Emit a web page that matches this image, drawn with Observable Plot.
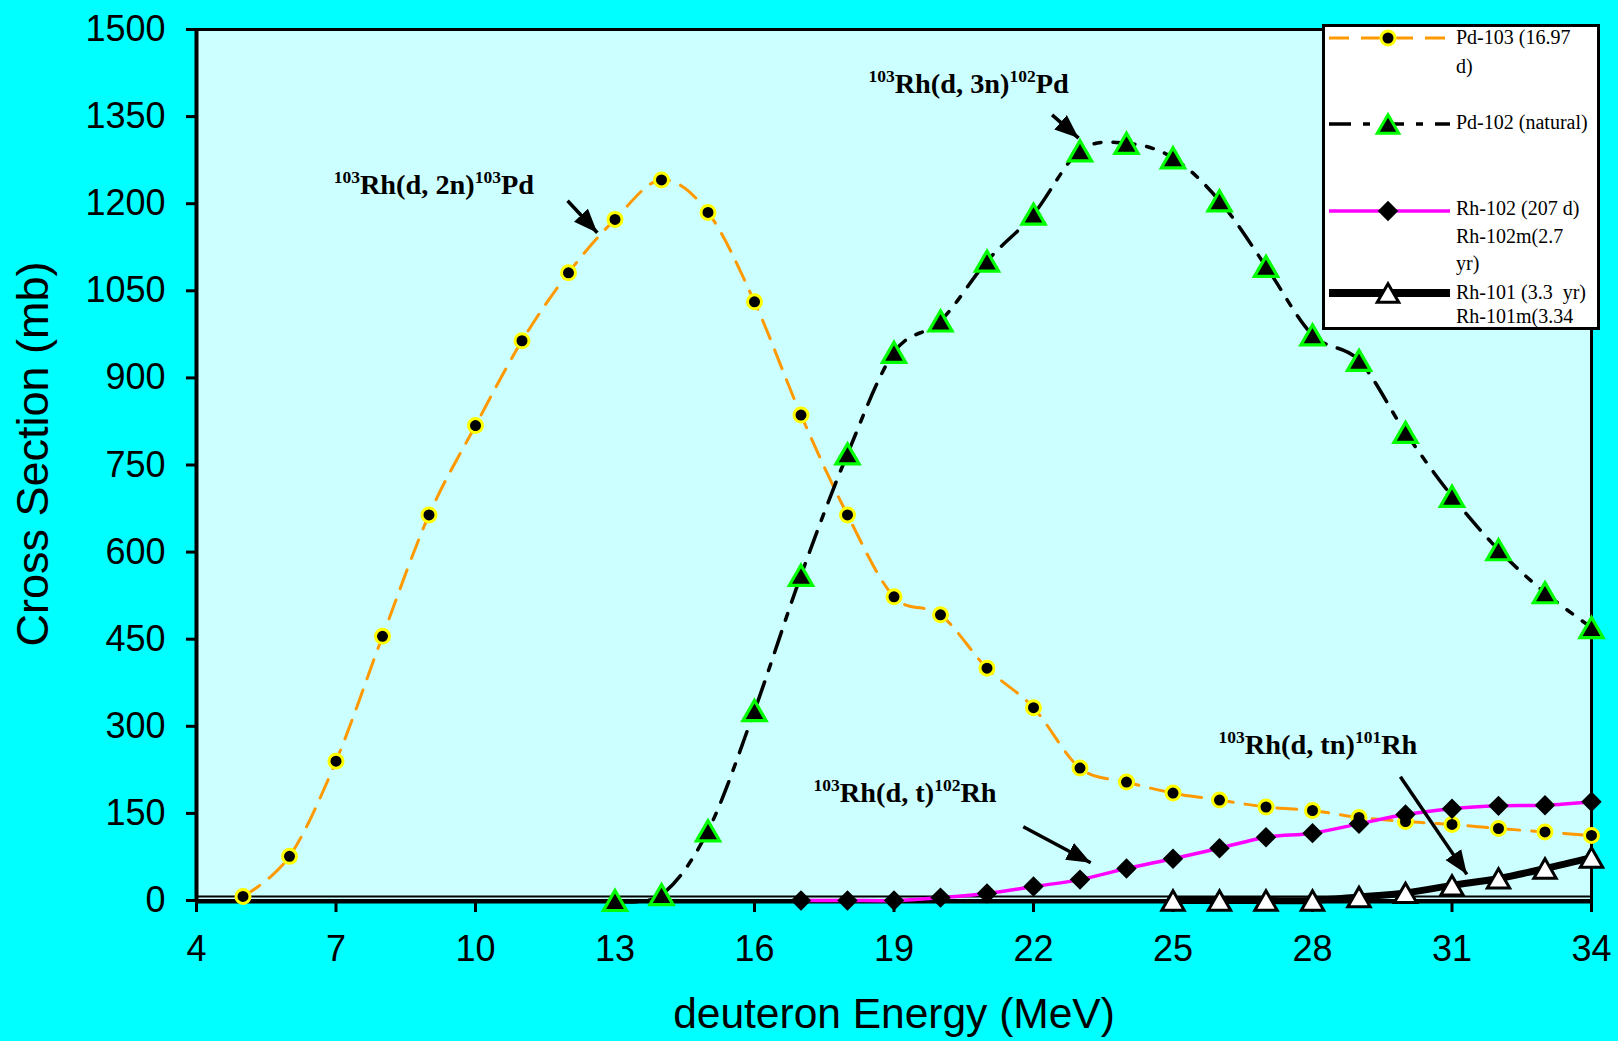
<!DOCTYPE html>
<html><head><meta charset="utf-8">
<script src="https://cdn.jsdelivr.net/npm/d3@7"></script>
<script src="https://cdn.jsdelivr.net/npm/@observablehq/plot@0.6"></script>
<style>
html,body{margin:0;padding:0;background:#00ffff;}
#wrap{position:relative;width:1618px;height:1041px;overflow:hidden;background:#00ffff;}
#legend{position:absolute;left:1322px;top:24px;width:278px;height:306px;box-sizing:border-box;border:3px solid #000;background:#fff;overflow:hidden;}
</style></head>
<body><div id="wrap"><div id="chart"></div><div id="legend"></div></div>
<script>
// ---- data ----
const pd103E = [5,6,7,8,9,10,11,12,13,14,15,16,17,18,19,20,21,22,23,24,25,26,27,28,29,30,31,32,33,34];
const pd103  = [7,76,240,455,664,818,964,1081,1173,1241,1185,1031,836,664,523,492,400,332,228,204,185,173,161,155,143,136,131,124,118,112];
const pd102E = [13,14,15,16,17,18,19,20,21,22,23,24,25,26,27,28,29,30,31,32,33,34];
const pd102  = [0,10,120,327,560,769,944,998,1101,1182,1291,1304,1279,1205,1092,974,930,806,696,604,530,470];
const rh102E = [17,18,19,20,21,22,23,24,25,26,27,28,29,30,31,32,33,34];
const rh102  = [0,0,0,5,12,24,36,55,72,90,109,116,132,148,158,163,164,170];
const rh101E = [25,26,27,28,29,30,31,32,33,34];
const rh101  = [0,0,0,0,6,13,26,38,55,74];

const xTicks = [4,7,10,13,16,19,22,25,28,31,34];
const yTicks = [0,150,300,450,600,750,900,1050,1200,1350,1500];
const xTitle = "deuteron Energy (MeV)";
const yTitle = "Cross Section (mb)";

const seriesNames = [["Pd-103 (16.97","d)"],["Pd-102 (natural)"],["Rh-102 (207 d)","Rh-102m(2.7","yr)"],["Rh-101 (3.3  yr)","Rh-101m(3.34"]];

const annoText = ["103|Rh(d, 2n)|103|Pd","103|Rh(d, 3n)|102|Pd","103|Rh(d, t)|102|Rh","103|Rh(d, tn)|101|Rh"];
const annoX = [6.95, 18.45, 17.27, 25.98];
const annoY = [1217, 1391, 169, 253];
const arrowX1 = [11.98, 22.4, 21.78, 29.89];
const arrowY1 = [1205, 1353, 127, 213];
const arrowX2 = [12.62, 22.97, 23.23, 31.32];
const arrowY2 = [1150, 1313, 65, 45];

// ---- styles ----
const ORANGE = "#ff9900", YELLOW = "#ffff00", GREEN = "#00ff00", MAGENTA = "#ff00ff";
const dashOrange = "20,12";
const dashBlack = "22,12,7,12";

const headMarker = (color) => {
  const m = d3.create("svg:marker")
    .attr("viewBox", "-24 -10 26 20")
    .attr("markerUnits", "userSpaceOnUse")
    .attr("markerWidth", 26).attr("markerHeight", 20)
    .attr("refX", 0).attr("refY", 0)
    .attr("orient", "auto");
  m.append("path").attr("d", "M-24,-9.5L0,0L-24,9.5Z").attr("fill", color).attr("stroke", "none");
  return m.node();
};

const serif = "'Liberation Serif','Times New Roman',serif";
const sans = "'Liberation Sans',Arial,sans-serif";

const chart = Plot.plot({
  width: 1618, height: 1041,
  marginLeft: 196, marginRight: 27, marginTop: 29, marginBottom: 141,
  style: {background: "transparent", fontFamily: sans, color: "black", overflow: "visible"},
  x: {domain: [4, 34]},
  y: {domain: [0, 1500]},
  marks: [
    Plot.frame({fill: "#ccffff"}),
    Plot.frame({stroke: "black", strokeWidth: 3}),
    Plot.ruleX([4], {stroke: "black", strokeWidth: 4}),
    Plot.ruleY([0], {stroke: "black", strokeWidth: 2, dy: -4}),
    Plot.ruleY([0], {stroke: "black", strokeWidth: 4, dy: 1}),
    Plot.axisX({ticks: xTicks, tickSize: 12, tickPadding: 23, fontSize: 36, strokeWidth: 3, color: "black", label: null, tickFormat: "d"}),
    Plot.axisY({ticks: yTicks, tickSize: 10, tickPadding: 21, fontSize: 36, strokeWidth: 3, color: "black", label: null, tickFormat: "d"}),
    Plot.text([xTitle], {frameAnchor: "bottom", lineAnchor: "bottom", dy: 127, fontSize: 42.5, fill: "black"}),
    Plot.text([yTitle], {frameAnchor: "left", textAnchor: "middle", lineAnchor: "bottom", rotate: -90, dx: -149, dy: -11, fontSize: 45, fill: "black"}),
    // Pd-103
    Plot.line(pd103, {x: pd103E, y: pd103, curve: "cardinal", stroke: ORANGE, strokeWidth: 3, strokeDasharray: dashOrange}),
    Plot.dot(pd103, {x: pd103E, y: pd103, r: 7, fill: "black", stroke: YELLOW, strokeWidth: 3}),
    // Pd-102
    Plot.line(pd102, {x: pd102E, y: pd102, curve: "cardinal", stroke: "black", strokeWidth: 3.5, strokeDasharray: dashBlack}),
    Plot.dot(pd102, {x: pd102E, y: pd102, symbol: "triangle", r: 8.6, fill: "black", stroke: GREEN, strokeWidth: 3.2, dy: 3.3}),
    // Rh-102
    Plot.line(rh102, {x: rh102E, y: rh102, curve: "cardinal", stroke: MAGENTA, strokeWidth: 3.5}),
    Plot.dot(rh102, {x: rh102E, y: rh102, symbol: "diamond2", r: 9.2, fill: "black"}),
    // Rh-101
    Plot.line(rh101, {x: rh101E, y: rh101, curve: "cardinal", stroke: "black", strokeWidth: 7}),
    Plot.dot(rh101, {x: rh101E, y: rh101, symbol: "triangle", r: 8.3, fill: "white", stroke: "black", strokeWidth: 3, dy: 3.2}),
    // annotations
    Plot.text(annoText, {x: annoX, y: annoY, text: d => d, textAnchor: "start", lineAnchor: "bottom", fontSize: 28.3, fontWeight: "bold", fontFamily: serif, fill: "black"}),
    Plot.link(annoText, {x1: arrowX1, y1: arrowY1, x2: arrowX2, y2: arrowY2, stroke: "black", strokeWidth: 3.5, markerEnd: headMarker})
  ]
});

// superscripts in annotations
chart.querySelectorAll("text").forEach(t => {
  const s = t.textContent;
  if (!s.includes("|")) return;
  const parts = s.split("|");
  t.textContent = "";
  parts.forEach((p, i) => {
    const ts = document.createElementNS("http://www.w3.org/2000/svg", "tspan");
    ts.textContent = p;
    if (i % 2 === 0) { ts.setAttribute("font-size", "17.5"); ts.setAttribute("dy", "-11"); }
    else { ts.setAttribute("dy", "11"); }
    t.appendChild(ts);
  });
});
document.getElementById("chart").appendChild(chart);

// ---- legend ----
const L = d3.select("#legend").append("svg").attr("width", 272).attr("height", 300)
  .style("display", "block").style("font-family", serif).style("font-size", "20px");
const ox = -3, oy = -3;
const entries = [
  {y: 14, base: [20, 49]},
  {y: 100, base: [105]},
  {y: 187, base: [191, 219, 246]},
  {y: 269, base: [275, 299]}
];
const sym = (type, r) => d3.symbol(type, r * r * Math.PI)();
entries.forEach((e, k) => {
  const g = L.append("g").attr("transform", `translate(${ox},${oy})`);
  const line = g.append("line").attr("x1", 7).attr("x2", 128).attr("y1", e.y).attr("y2", e.y);
  if (k === 0) line.attr("stroke", ORANGE).attr("stroke-width", 3).attr("stroke-dasharray", dashOrange);
  if (k === 1) line.attr("stroke", "black").attr("stroke-width", 3.5).attr("stroke-dasharray", dashBlack);
  if (k === 2) line.attr("stroke", MAGENTA).attr("stroke-width", 3.5);
  if (k === 3) line.attr("stroke", "black").attr("stroke-width", 8);
  const m = g.append("g").attr("transform", `translate(66,${e.y})`);
  if (k === 0) m.append("circle").attr("r", 7).attr("fill", "black").attr("stroke", YELLOW).attr("stroke-width", 3);
  if (k === 1) m.append("path").attr("d", sym(d3.symbolTriangle, 8.0)).attr("transform", "translate(0,3.1)").attr("fill", "black").attr("stroke", GREEN).attr("stroke-width", 3);
  if (k === 2) m.append("path").attr("d", sym(d3.symbolDiamond2, 9.2)).attr("fill", "black");
  if (k === 3) m.append("path").attr("d", sym(d3.symbolTriangle, 8.0)).attr("transform", "translate(0,3.1)").attr("fill", "white").attr("stroke", "black").attr("stroke-width", 3);
  seriesNames[k].forEach((s, j) => {
    g.append("text").attr("x", 134).attr("y", e.base[j]).attr("fill", "black").style("white-space", "pre").text(s);
  });
});
</script>
</body></html>
